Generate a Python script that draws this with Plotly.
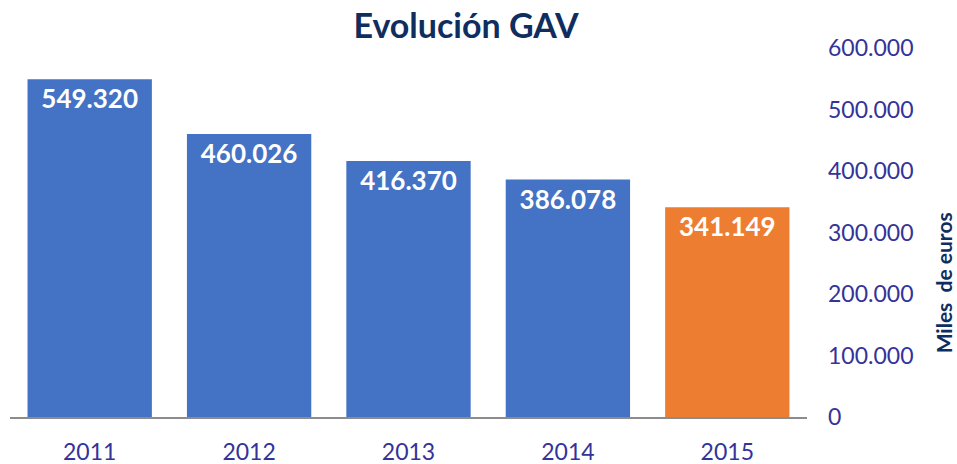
import plotly.graph_objects as go

years = ["2011", "2012", "2013", "2014", "2015"]
gav = [549320, 460026, 416370, 386078, 341149]
labels = ["549.320", "460.026", "416.370", "386.078", "341.149"]
bar_colors = ["#4472C4", "#4472C4", "#4472C4", "#4472C4", "#ED7D31"]
ytick_vals = [0, 100000, 200000, 300000, 400000, 500000, 600000]
ytick_text = ["0", "100.000", "200.000", "300.000", "400.000", "500.000", "600.000"]

FONT = "Lato"
NAVY = "#0F2D5F"
TICK = "#333399"

fig = go.Figure(go.Bar(
    x=years, y=gav, text=labels,
    marker=dict(color=bar_colors, line=dict(width=0)),
    textposition="inside", insidetextanchor="end",
    textfont=dict(family=FONT, size=26, color="white", weight="bold"),
    textangle=0, cliponaxis=False,
))

fig.update_layout(
    width=957, height=464,
    margin=dict(l=10, r=150, t=48, b=47, autoexpand=False),
    paper_bgcolor="white", plot_bgcolor="white",
    bargap=0.22,
    showlegend=False,
    title=dict(text="<b>Evolución GAV</b>", x=0.487, xanchor="center", y=0.944, yanchor="middle",
               font=dict(family=FONT, size=34, color=NAVY)),
    xaxis=dict(showline=True, linecolor="#8C8C8C", linewidth=2, showgrid=False,
               automargin=False,
               ticks="outside", ticklen=0, ticklabelstandoff=13,
               tickfont=dict(family=FONT, size=23, color=TICK)),
    yaxis=dict(side="right", range=[0, 600000], tickvals=ytick_vals, ticktext=ytick_text,
               showgrid=False, zeroline=False, showline=False, automargin=False,
               ticklabelstandoff=20,
               tickfont=dict(family=FONT, size=23, color=TICK)),
    annotations=[dict(text="<b>Miles  de euros</b>", xref="paper", yref="paper",
                      x=1.171, y=0.363, xanchor="center", yanchor="middle", textangle=-90,
                      showarrow=False, font=dict(family=FONT, size=21, color=NAVY))],
)

fig.write_html("out.html", config={"displayModeBar": False},
               post_script="document.body.style.margin='0';document.body.style.overflow='hidden';")
